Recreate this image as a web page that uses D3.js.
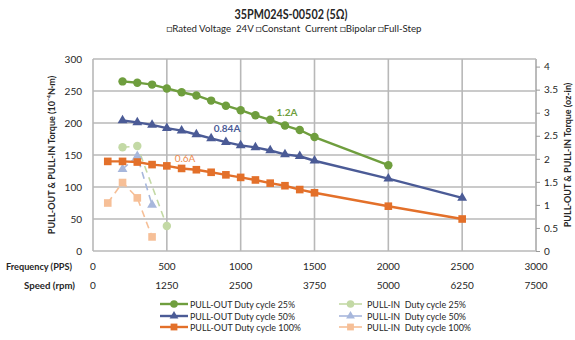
<!DOCTYPE html>
<html>
<head>
<meta charset="utf-8">
<script src="https://cdn.jsdelivr.net/npm/d3@7/dist/d3.min.js"></script>
<style>
  html, body { margin: 0; padding: 0; background: #fff; }
  svg { display: block; font-family: Lato, "Liberation Sans", sans-serif; }
  svg text { white-space: pre; }
</style>
</head>
<body>
<svg id="chart" width="575" height="340"></svg>
<script>
// Pull-out curves (frequency in PPS, torque in 10^-4 N·m)
const pullOut25Freq = [200, 300, 400, 500, 600, 700, 800, 900, 1000, 1100, 1200, 1300, 1400, 1500, 2000];
const pullOut25Torque = [265, 263, 260, 254, 248, 243, 235, 227, 220, 212, 205, 196, 189, 178, 134];

const pullOut50Freq = [200, 300, 400, 500, 600, 700, 800, 900, 1000, 1100, 1200, 1300, 1400, 1500, 2000, 2500];
const pullOut50Torque = [204, 201, 197, 192, 188, 182, 176, 170, 165, 162, 157, 151, 148, 141, 113, 83];

const pullOut100Freq = [100, 200, 300, 400, 500, 600, 700, 800, 900, 1000, 1100, 1200, 1300, 1400, 1500, 2000, 2500];
const pullOut100Torque = [140, 140, 139, 135, 133, 129, 127, 123, 119, 115, 111, 106, 102, 96, 91, 70, 50];

// Pull-in curves
const pullIn25Freq = [200, 300, 500];
const pullIn25Torque = [162, 164, 39];

const pullIn50Freq = [200, 300, 400];
const pullIn50Torque = [128, 148, 72];

const pullIn100Freq = [100, 200, 300, 400];
const pullIn100Torque = [75, 107, 83, 22];

// Axis ticks
const freqTicks = [0, 500, 1000, 1500, 2000, 2500, 3000];
const speedTicks = [0, 1250, 2500, 3750, 5000, 6250, 7500];
const torqueTicks = [0, 50, 100, 150, 200, 250, 300];
const ozInTicks = [0, 0.5, 1, 1.5, 2, 2.5, 3, 3.5, 4];

const C = {
  green: "#6f9e3e", blue: "#4b5b96", orange: "#e3702a",
  lgreen: "#c3d9a5", lblue: "#a7b7dc", lorange: "#f6bf97",
  grid: "#b8b8b8", text: "#262626"
};

const svg = d3.select("#chart");
const L = 93, R = 536, T = 59, B = 251;

const x = d3.scaleLinear().domain([0, 3000]).range([L, R]);
const y = d3.scaleLinear().domain([0, 300]).range([B, T]);
const yOz = d3.scaleLinear().domain([0, 4.165]).range([B, T]);

// Squeeze a text to a given width (narrow face look)
function fit(sel, w) {
  sel.attr("textLength", w).attr("lengthAdjust", "spacingAndGlyphs");
  return sel;
}

// Title block
fit(svg.append("text").attr("x", 291).attr("y", 19).attr("text-anchor", "middle")
  .attr("font-size", 13.5).attr("font-weight", "bold").attr("fill", C.text)
  .text("35PM024S-00502 (5Ω)"), 113);
fit(svg.append("text").attr("x", 294).attr("y", 32).attr("text-anchor", "middle")
  .attr("font-size", 10).attr("fill", C.text)
  .text("□Rated Voltage  24V □Constant  Current □Bipolar □Full-Step"), 255);

// Grid
const g = svg.append("g");
g.append("g").selectAll("line").data(torqueTicks).join("line")
  .attr("x1", L).attr("x2", R).attr("y1", d => y(d)).attr("y2", d => y(d))
  .attr("stroke", C.grid).attr("stroke-width", 1.6);
g.append("g").selectAll("line").data(freqTicks).join("line")
  .attr("x1", d => x(d)).attr("x2", d => x(d)).attr("y1", T).attr("y2", B)
  .attr("stroke", C.grid).attr("stroke-width", 1.6);

// Left axis (labels only)
const leftAxis = d3.axisLeft(y).tickValues(torqueTicks).tickSize(0).tickPadding(11);
const la = svg.append("g").attr("transform", `translate(${L},0)`).call(leftAxis);
la.select(".domain").remove();
la.selectAll("text").attr("font-size", 10).attr("fill", C.text).attr("font-family", "Lato, sans-serif");

// Right axis (oz-in)
const rightAxis = d3.axisRight(yOz).tickValues(ozInTicks).tickSize(4).tickPadding(4).tickFormat(d3.format("~g"));
const ra = svg.append("g").attr("transform", `translate(${R},0)`).call(rightAxis);
ra.select(".domain").attr("stroke", C.grid).attr("stroke-width", 1.6).attr("d", `M0,${T}V${B}`);
ra.selectAll(".tick line").attr("stroke", "#9a9a9a");
ra.selectAll("text").attr("font-size", 10).attr("fill", C.text).attr("font-family", "Lato, sans-serif");

// Axis titles
svg.append("text").attr("transform", `translate(55,${(T + B) / 2}) rotate(-90)`)
  .attr("text-anchor", "middle").attr("font-size", 9).attr("font-weight", "bold").attr("fill", C.text)
  .text("PULL-OUT & PULL-IN Torque (10⁻⁴N·m)");
svg.append("text").attr("transform", `translate(571,${(T + B) / 2}) rotate(-90)`)
  .attr("text-anchor", "middle").attr("font-size", 9).attr("font-weight", "bold").attr("fill", C.text)
  .text("PULL-OUT & PULL-IN Torque (oz-in)");

// Frequency / speed label rows
fit(svg.append("text").attr("x", 72).attr("y", 270).attr("text-anchor", "end")
  .attr("font-size", 10).attr("font-weight", "bold").attr("fill", C.text).text("Frequency (PPS)"), 66);
fit(svg.append("text").attr("x", 75).attr("y", 289).attr("text-anchor", "end")
  .attr("font-size", 10).attr("font-weight", "bold").attr("fill", C.text).text("Speed (rpm)"), 51);
svg.append("g").selectAll("text").data(freqTicks).join("text")
  .attr("x", d => x(d)).attr("y", 270).attr("text-anchor", "middle")
  .attr("font-size", 10).attr("fill", C.text).text(d => d);
svg.append("g").selectAll("text").data(speedTicks).join("text")
  .attr("x", (d, i) => x(freqTicks[i])).attr("y", 289).attr("text-anchor", "middle")
  .attr("font-size", 10).attr("fill", C.text).text(d => d);

// Series
const series = [
  { name: "PULL-IN  Duty cycle 25%", f: pullIn25Freq, t: pullIn25Torque, color: C.lgreen, dash: true, shape: "circle" },
  { name: "PULL-IN  Duty cycle 50%", f: pullIn50Freq, t: pullIn50Torque, color: C.lblue, dash: true, shape: "triangle" },
  { name: "PULL-IN  Duty cycle 100%", f: pullIn100Freq, t: pullIn100Torque, color: C.lorange, dash: true, shape: "square" },
  { name: "PULL-OUT Duty cycle 25%", f: pullOut25Freq, t: pullOut25Torque, color: C.green, dash: false, shape: "circle" },
  { name: "PULL-OUT Duty cycle 50%", f: pullOut50Freq, t: pullOut50Torque, color: C.blue, dash: false, shape: "triangle" },
  { name: "PULL-OUT Duty cycle 100%", f: pullOut100Freq, t: pullOut100Torque, color: C.orange, dash: false, shape: "square" }
];

const symbolOf = s => s === "circle" ? d3.symbolCircle : s === "triangle" ? d3.symbolTriangle : d3.symbolSquare;
const sizeOf = s => s === "circle" ? 56 : s === "triangle" ? 42 : 58;

const line = d3.line().x(d => x(d[0])).y(d => y(d[1]));

series.forEach(s => {
  const pts = s.f.map((f, i) => [f, s.t[i]]);
  const sg = svg.append("g");
  sg.append("path").datum(pts).attr("d", line).attr("fill", "none")
    .attr("stroke", s.color).attr("stroke-width", s.dash ? 1.6 : 2.4)
    .attr("stroke-dasharray", s.dash ? "7,5" : null);
  sg.selectAll("path.m").data(pts).join("path").attr("class", "m")
    .attr("transform", d => `translate(${x(d[0])},${y(d[1])})`)
    .attr("d", d3.symbol().type(symbolOf(s.shape)).size(sizeOf(s.shape)))
    .attr("fill", s.color);
});

// Current annotations
svg.append("text").attr("x", 287).attr("y", 116).attr("text-anchor", "middle")
  .attr("font-size", 10).attr("font-weight", "bold").attr("fill", C.green).text("1.2A");
svg.append("text").attr("x", 227).attr("y", 132).attr("text-anchor", "middle")
  .attr("font-size", 10).attr("font-weight", "bold").attr("fill", C.blue).text("0.84A");
svg.append("text").attr("x", 185).attr("y", 162).attr("text-anchor", "middle")
  .attr("font-size", 10).attr("fill", "#ec8a4e").text("0.6A");

// Legend
const legendRows = [
  [series[3], series[0]],
  [series[4], series[1]],
  [series[5], series[2]]
];
const legendY = [304, 316, 327];
const legendCols = [
  { x: 160, len: 28, tx: 30, widths: [105, 105, 111] },
  { x: 339, len: 23, tx: 28, widths: [99, 99, 104] }
];
legendRows.forEach((row, r) => {
  row.forEach((s, c) => {
    const col = legendCols[c];
    const lg = svg.append("g").attr("transform", `translate(${col.x},${legendY[r]})`);
    lg.append("line").attr("x1", 0).attr("x2", col.len).attr("y1", 0).attr("y2", 0)
      .attr("stroke", s.color).attr("stroke-width", s.dash ? 1.6 : 2.4);
    lg.append("path").attr("transform", `translate(${col.len / 2},0)`)
      .attr("d", d3.symbol().type(symbolOf(s.shape)).size(sizeOf(s.shape) * 0.8))
      .attr("fill", s.color);
    fit(lg.append("text").attr("x", col.tx).attr("y", 3.5)
      .attr("font-size", 10).attr("fill", C.text).text(s.name), col.widths[r]);
  });
});
</script>
</body>
</html>
